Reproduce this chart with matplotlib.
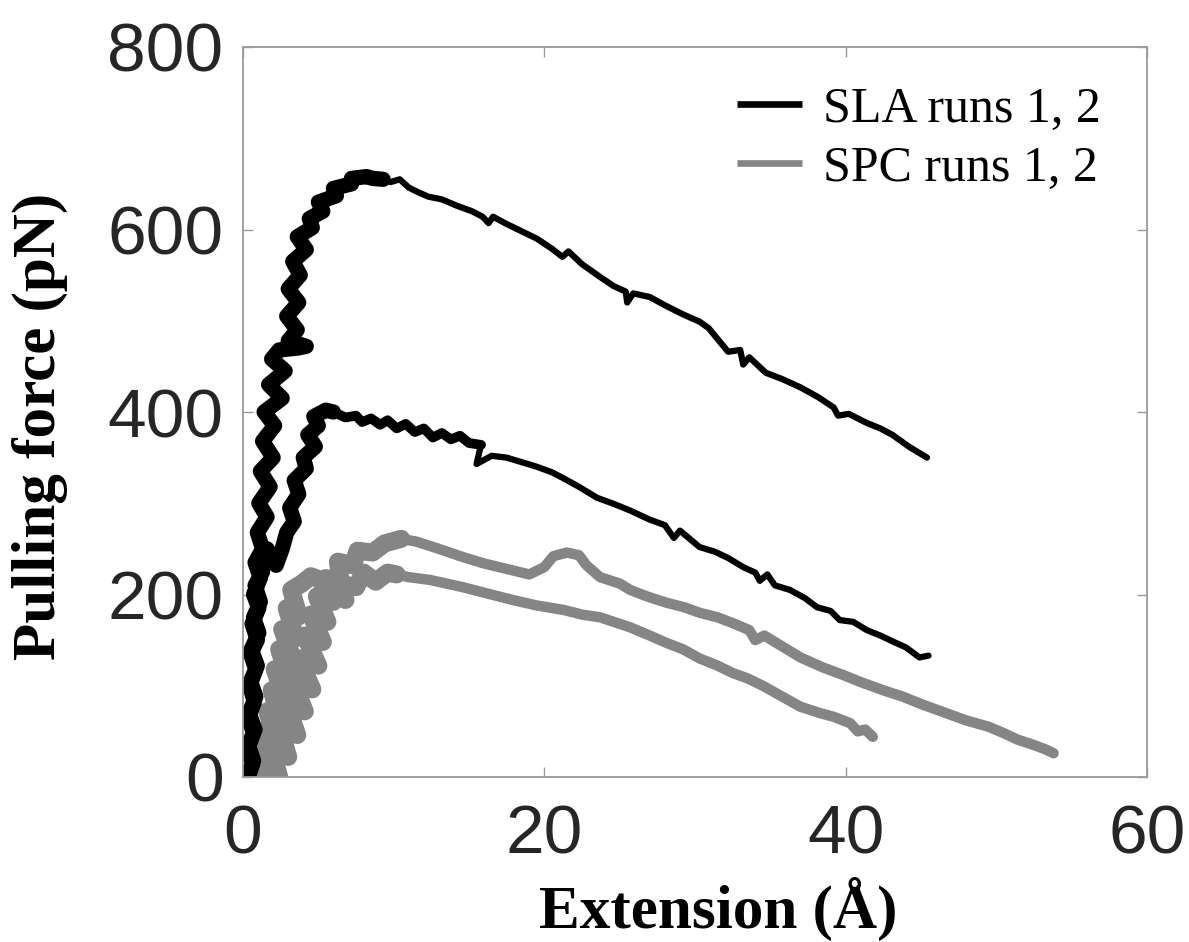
import matplotlib
matplotlib.use('Agg')
import matplotlib.pyplot as plt

# ---------------- data ----------------
x_ticks = [0, 20, 40, 60]
y_ticks = [0, 200, 400, 600, 800]
series_labels = ['SLA runs 1, 2', 'SPC runs 1, 2']

# (extension in Å, force in pN); each run split into its noisy loading part and its decay
sla_run1_rise = [(0.35, 0), (0.65, 15), (0.3, 30), (0.7, 48), (0.35, 65), (0.75, 82), (0.45, 100),
                 (0.85, 118), (0.5, 135), (0.95, 150), (0.6, 168), (1.05, 185), (0.7, 200),
                 (1.15, 218), (0.8, 235), (1.3, 250), (0.95, 268), (1.6, 285), (1.05, 300),
                 (1.8, 318), (1.15, 335), (2.0, 350), (1.3, 368), (2.1, 385), (1.4, 400),
                 (2.6, 415), (1.7, 430), (2.8, 445), (1.9, 458), (2.4, 468), (3.6, 470),
                 (4.2, 472), (3.0, 478), (3.6, 490), (2.9, 505), (3.7, 520), (3.0, 535),
                 (3.8, 550), (3.3, 565), (4.2, 578), (3.6, 592), (4.6, 602), (4.4, 612),
                 (5.3, 620), (5.0, 630), (6.2, 637), (6.0, 645), (7.2, 650), (7.2, 656),
                 (8.2, 658), (8.6, 656), (9.3, 655)]
sla_run1_fall = [(9.3, 655), (9.8, 652), (10.4, 655), (11.0, 646), (11.6, 641), (12.3, 636),
                 (13.2, 633), (14.2, 626), (15.2, 620), (15.9, 614), (16.3, 607), (16.6, 614),
                 (17.5, 606), (18.5, 598), (19.5, 590), (20.5, 579), (21.2, 570), (21.6, 576),
                 (22.5, 562), (23.7, 548), (24.6, 538), (25.4, 532), (25.5, 520), (25.9, 530),
                 (27.0, 526), (28.0, 517), (29.2, 507), (30.3, 499), (30.9, 492), (31.6, 478),
                 (32.2, 466), (33.0, 468), (33.2, 452), (33.6, 460), (34.7, 443), (35.8, 436),
                 (37.0, 427), (38.2, 416), (39.2, 405), (39.5, 396), (40.2, 398), (41.4, 388),
                 (42.3, 382), (43.1, 375), (44.2, 362), (45.1, 353), (45.4, 350)]

sla_run2_rise = [(0.3, 0), (0.7, 18), (0.35, 35), (0.8, 52), (0.4, 70), (0.85, 88), (0.5, 105),
                 (0.95, 122), (0.55, 140), (1.05, 158), (0.7, 175), (1.15, 192), (0.8, 210),
                 (1.3, 225), (1.0, 240), (1.6, 250), (2.2, 232), (2.6, 250), (2.9, 268),
                 (3.4, 280), (3.1, 295), (3.7, 310), (3.4, 325), (4.2, 338), (4.0, 350),
                 (4.8, 362), (4.3, 375), (5.0, 385), (4.7, 395), (5.5, 402), (6.0, 400)]
sla_run2_plateau = [(6.0, 400), (6.8, 394), (7.5, 396), (7.9, 389), (8.5, 393), (9.1, 386),
                    (9.6, 391), (10.2, 382), (10.8, 387), (11.4, 378), (12.0, 382), (12.6, 372),
                    (13.2, 377), (13.8, 370), (14.4, 374), (15.0, 366), (15.8, 364)]
sla_run2_fall = [(15.8, 364), (15.5, 343), (16.5, 352), (17.5, 350), (18.5, 345), (19.5, 340),
                 (20.5, 334), (21.2, 328), (22.3, 318), (23.5, 306), (24.5, 300), (25.7, 292),
                 (27.0, 282), (28.0, 276), (28.6, 262), (29.0, 270), (30.3, 252), (31.3, 247),
                 (32.2, 240), (33.2, 230), (34.0, 224), (34.3, 215), (34.8, 222), (35.3, 210),
                 (36.3, 205), (37.3, 196), (38.1, 186), (39.0, 182), (39.6, 172), (40.5, 170),
                 (41.4, 161), (42.3, 155), (43.2, 148), (44.0, 142), (44.9, 131), (45.5, 133)]

spc_run1_rise = [(0.6, 5), (1.5, 0), (1.0, 28), (1.9, 18), (1.3, 50), (2.2, 40), (1.6, 72),
                 (2.5, 62), (1.9, 95), (2.8, 85), (2.1, 118), (3.0, 108), (2.4, 140), (3.3, 130),
                 (2.6, 162), (3.5, 152), (2.9, 185), (3.7, 176), (3.2, 205), (3.9, 212),
                 (4.5, 220), (5.5, 214), (5.2, 200), (6.3, 205), (6.8, 194), (6.5, 212),
                 (7.5, 208), (8.0, 224), (8.8, 214), (9.6, 224), (10.2, 222)]
spc_run1_fall = [(10.2, 222), (11.0, 219), (12.4, 216), (13.5, 212), (14.6, 208), (16.0, 202),
                 (17.9, 194), (19.5, 188), (21.3, 183), (22.5, 178), (23.7, 175), (25.7, 164),
                 (27.0, 155), (28.1, 147), (29.2, 140), (30.3, 130), (31.5, 122), (32.5, 114),
                 (33.5, 108), (34.5, 100), (35.8, 88), (37.0, 77), (38.3, 70), (39.2, 66),
                 (40.3, 59), (40.8, 50), (41.3, 52), (41.8, 44)]

spc_run2_rise = [(1.4, 5), (2.4, 0), (1.9, 30), (3.0, 22), (2.4, 55), (3.6, 46), (2.9, 80),
                 (4.1, 72), (3.3, 105), (4.6, 96), (3.7, 130), (5.0, 122), (4.1, 155), (5.3, 148),
                 (4.5, 178), (5.6, 170), (4.9, 198), (6.0, 192), (5.5, 218), (6.5, 212),
                 (6.3, 236), (7.3, 232), (7.6, 248), (8.6, 246), (9.4, 256), (10.5, 261)]
spc_run2_fall = [(10.5, 261), (11.5, 258), (13.0, 250), (14.6, 241), (16.0, 234), (17.5, 228),
                 (19.0, 222), (20.0, 230), (20.6, 242), (21.5, 246), (22.3, 243), (22.8, 232),
                 (23.7, 219), (25.0, 212), (25.7, 205), (26.8, 198), (28.1, 191), (29.3, 186),
                 (30.3, 180), (31.5, 175), (32.6, 168), (33.6, 161), (34.0, 150), (34.6, 155),
                 (35.8, 143), (37.0, 131), (38.5, 120), (39.8, 112), (41.0, 104), (42.5, 95),
                 (43.8, 88), (45.0, 80), (46.5, 71), (48.0, 62), (49.5, 55), (50.5, 48),
                 (51.4, 41), (52.5, 35), (53.3, 30), (53.8, 26)]

# ---------------- figure ----------------
BLACK = '#000000'
GRAY = '#858585'
FRAME = '#9a9a9a'

fig = plt.figure(figsize=(11.89, 9.42), dpi=100)
ax = fig.add_axes([243 / 1189, 1 - 777 / 942, 904 / 1189, 730 / 942])

line_kw = dict(solid_joinstyle='round', solid_capstyle='round')


def draw(run, color, lw):
    xs, ys = zip(*run)
    line, = ax.plot(xs, ys, color=color, lw=lw, **line_kw)
    return line


for rise, fall in ((spc_run1_rise, spc_run1_fall), (spc_run2_rise, spc_run2_fall)):
    draw(rise, GRAY, 13)
    h_spc = draw(fall, GRAY, 7.5)
draw(sla_run1_rise, BLACK, 11)
draw(sla_run1_fall, BLACK, 4.5)
draw(sla_run2_rise, BLACK, 11)
draw(sla_run2_plateau, BLACK, 7)
h_sla = draw(sla_run2_fall, BLACK, 4.5)

ax.set_xlim(x_ticks[0], x_ticks[-1])
ax.set_ylim(y_ticks[0], y_ticks[-1])
ax.set_xticks(x_ticks)
ax.set_yticks(y_ticks)

for sp in ax.spines.values():
    sp.set_color(FRAME)
    sp.set_linewidth(1.3)

ax.tick_params(axis='both', which='both', direction='in', length=7, width=1,
               color=FRAME, labelcolor='#262626', top=True, right=True)
ax.tick_params(axis='y', pad=14)
ax.tick_params(axis='x', pad=19)
for lab in ax.get_xticklabels() + ax.get_yticklabels():
    lab.set_fontfamily('Liberation Sans')
    lab.set_fontsize(50)

label_font = dict(family='Liberation Serif', weight='bold', size=44, color='black')
ax.set_xlabel('Extension (Å)', **label_font)
ax.xaxis.label.set_va('baseline')
ax.xaxis.set_label_coords((718 - 243) / 904, (777 - 928) / 730)
ax.set_ylabel('Pulling force (pN)', **label_font)
ax.yaxis.label.set_va('baseline')
ax.yaxis.set_label_coords((55 - 243) / 904, (777 - 426) / 730)

leg = ax.legend([h_sla, h_spc], series_labels, loc='upper left',
                bbox_to_anchor=((737 - 243) / 904, (777 - 86) / 730),
                frameon=False, borderpad=0, borderaxespad=0,
                handlelength=1.3, handletextpad=0.42, labelspacing=0.25,
                prop={'family': 'Liberation Serif', 'size': 36})
for h in leg.get_lines():
    h.set_linewidth(4.8)
    h.set_solid_capstyle('butt')

fig.savefig('out.png', dpi=100)
